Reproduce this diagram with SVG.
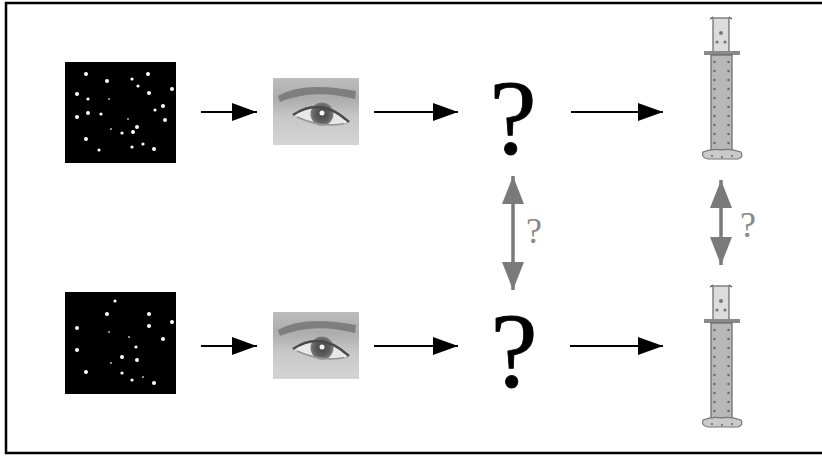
<svg xmlns="http://www.w3.org/2000/svg" xmlns:xlink="http://www.w3.org/1999/xlink" width="822" height="457" viewBox="0 0 822 457">
<style>
.conn{stroke:#000;stroke-width:2;fill:none;marker-end:url(#ah)}
.gconn{stroke:#7a7a7a;stroke-width:3.5;fill:none;marker-start:url(#gh);marker-end:url(#gh)}
.dot{fill:#fff}
.sdot{fill:#bbb}
.bigq{font-family:"Liberation Serif","Times New Roman",serif;font-size:106px;fill:#000;stroke:#000;stroke-width:0.8;text-anchor:middle}
.gq{font-family:"Liberation Serif","Times New Roman",serif;font-size:36px;fill:#8a8a8a}
</style>
<defs>
<marker id="ah" viewBox="0 0 25 18" refX="25" refY="9" markerWidth="25" markerHeight="18" markerUnits="userSpaceOnUse" orient="auto"><path d="M0,0 L25,9 L0,18 z" fill="#000"/></marker>
<marker id="gh" viewBox="0 0 28 22" refX="28" refY="11" markerWidth="28" markerHeight="22" markerUnits="userSpaceOnUse" orient="auto-start-reverse"><path d="M0,0 L28,11 L0,22 z" fill="#7a7a7a"/></marker>
<linearGradient id="eyebg" x1="0" y1="0" x2="0" y2="1">
<stop offset="0" stop-color="#bdbdbd"/><stop offset="0.3" stop-color="#acacac"/><stop offset="0.6" stop-color="#c8c8c8"/><stop offset="1" stop-color="#d4d4d4"/>
</linearGradient>
<radialGradient id="iris" cx="0.5" cy="0.5" r="0.5">
<stop offset="0" stop-color="#444"/><stop offset="0.7" stop-color="#606060"/><stop offset="1" stop-color="#7e7e7e"/>
</radialGradient>
<g id="eyeimg">
<rect x="0" y="0" width="86" height="67" fill="url(#eyebg)"/>
<path d="M5,18 Q30,3 83,13 L82,21 Q40,10 7,24 z" fill="#767676" opacity="0.85"/>
<path d="M20,37 Q48,18 76,44 Q50,50 20,37 z" fill="#e8e8e8"/>
<circle cx="49" cy="36" r="11.5" fill="url(#iris)"/>
<circle cx="49" cy="35" r="2.5" fill="#f4f4f4"/>
<path d="M20,37 Q48,18 76,44" fill="none" stroke="#4a4a4a" stroke-width="2.5"/>
<path d="M24,39 Q50,51 74,45" fill="none" stroke="#959595" stroke-width="1.5"/>
<circle cx="72" cy="44" r="1.5" fill="#f0f0f0"/>
</g>
<g id="cyl">
<rect x="713" y="18" width="16" height="35" fill="#dcdcdc" stroke="#666" stroke-width="1.2"/>
<path d="M710,19 L713,17 M732,19 L729,17" stroke="#555" stroke-width="1.5"/>
<circle cx="721" cy="33" r="2" fill="#777"/>
<circle cx="717" cy="42" r="1.6" fill="#777"/><circle cx="725" cy="42" r="1.6" fill="#777"/>
<rect x="704" y="51" width="36" height="4" fill="#8a8a8a"/>
<rect x="711" y="55" width="21" height="95" fill="#b8b8b8" stroke="#666" stroke-width="1.2"/>
<g fill="#666">
<circle cx="714.5" cy="62" r="1.2"/><circle cx="714.5" cy="71" r="1.2"/><circle cx="714.5" cy="80" r="1.2"/><circle cx="714.5" cy="89" r="1.2"/><circle cx="714.5" cy="98" r="1.2"/><circle cx="714.5" cy="107" r="1.2"/><circle cx="714.5" cy="116" r="1.2"/><circle cx="714.5" cy="125" r="1.2"/><circle cx="714.5" cy="134" r="1.2"/><circle cx="714.5" cy="143" r="1.2"/>
<circle cx="728.5" cy="62" r="1.2"/><circle cx="728.5" cy="71" r="1.2"/><circle cx="728.5" cy="80" r="1.2"/><circle cx="728.5" cy="89" r="1.2"/><circle cx="728.5" cy="98" r="1.2"/><circle cx="728.5" cy="107" r="1.2"/><circle cx="728.5" cy="116" r="1.2"/><circle cx="728.5" cy="125" r="1.2"/><circle cx="728.5" cy="134" r="1.2"/><circle cx="728.5" cy="143" r="1.2"/>
</g>
<path d="M703,152 Q701,158 708,159 L738,159 Q744,157 741,152 Q730,148 722,150 Q712,148 703,152 z" fill="#cacaca" stroke="#777" stroke-width="1.2"/>
<circle cx="712" cy="156" r="1" fill="#666"/><circle cx="722" cy="157" r="1" fill="#666"/><circle cx="732" cy="156" r="1" fill="#666"/>
</g>
</defs>
<rect x="6" y="3" width="830" height="450" fill="#fff" stroke="#000" stroke-width="2.5"/>
<g id="stim-top">
<rect x="65" y="62" width="111" height="101" fill="#000"/>
<g class="dot">
<circle cx="86" cy="74" r="2"/><circle cx="107" cy="81" r="2"/><circle cx="132" cy="79" r="1.6"/><circle cx="148" cy="74" r="2"/><circle cx="138" cy="86" r="1.6"/><circle cx="77" cy="94" r="2"/><circle cx="88" cy="99" r="1.6"/><circle cx="149" cy="93" r="2"/><circle cx="172" cy="89" r="2"/><circle cx="163" cy="106" r="2"/><circle cx="155" cy="110" r="1.6"/><circle cx="77" cy="117" r="2"/><circle cx="88" cy="113" r="2"/><circle cx="101" cy="114" r="1.6"/><circle cx="137" cy="127" r="2"/><circle cx="133" cy="132" r="2"/><circle cx="122" cy="133" r="1.6"/><circle cx="165" cy="120" r="2"/><circle cx="86" cy="139" r="2"/><circle cx="99" cy="150" r="1.6"/><circle cx="132" cy="147" r="1.6"/><circle cx="143" cy="144" r="1.6"/><circle cx="154" cy="149" r="2"/>
</g>
<g class="sdot"><circle cx="109" cy="99" r="1"/><circle cx="128" cy="119" r="1"/><circle cx="111" cy="129" r="1"/></g>
</g>
<g id="stim-bottom">
<rect x="65" y="292" width="111" height="102" fill="#000"/>
<g class="dot">
<circle cx="115" cy="301" r="1.6"/><circle cx="107" cy="314" r="2"/><circle cx="149" cy="314" r="2"/><circle cx="172" cy="322" r="2"/><circle cx="77" cy="328" r="2"/><circle cx="149" cy="326" r="2"/><circle cx="163" cy="339" r="2"/><circle cx="136" cy="347" r="1.6"/><circle cx="77" cy="350" r="2"/><circle cx="122" cy="357" r="2"/><circle cx="137" cy="360" r="2"/><circle cx="86" cy="372" r="2"/><circle cx="122" cy="373" r="1.6"/><circle cx="132" cy="380" r="1.6"/><circle cx="154" cy="383" r="2"/>
</g>
<g class="sdot"><circle cx="109" cy="332" r="1"/><circle cx="129" cy="337" r="1"/><circle cx="111" cy="363" r="1"/><circle cx="143" cy="377" r="1"/></g>
</g>
<g id="eye-top"><use xlink:href="#eyeimg" x="273" y="78"/></g>
<g id="eye-bottom"><use xlink:href="#eyeimg" x="273" y="312"/></g>
<g id="q-top"><text class="bigq" x="513" y="154">?</text></g>
<g id="q-bottom"><text class="bigq" x="514" y="387">?</text></g>
<g id="cyl-top"><use xlink:href="#cyl"/></g>
<g id="cyl-bottom"><use xlink:href="#cyl" y="268"/></g>
<g id="connectors">
<line class="conn" x1="201" y1="112" x2="257" y2="112"/>
<line class="conn" x1="374" y1="112" x2="458" y2="112"/>
<line class="conn" x1="571" y1="112" x2="663" y2="112"/>
<line class="conn" x1="201" y1="346" x2="257" y2="346"/>
<line class="conn" x1="374" y1="346" x2="458" y2="346"/>
<line class="conn" x1="570" y1="346" x2="663" y2="346"/>
<line class="gconn" x1="513" y1="176" x2="513" y2="290"/>
<line class="gconn" x1="721" y1="180" x2="721" y2="265"/>
<text class="gq" x="526" y="243">?</text>
<text class="gq" x="740" y="237">?</text>
</g>
</svg>
